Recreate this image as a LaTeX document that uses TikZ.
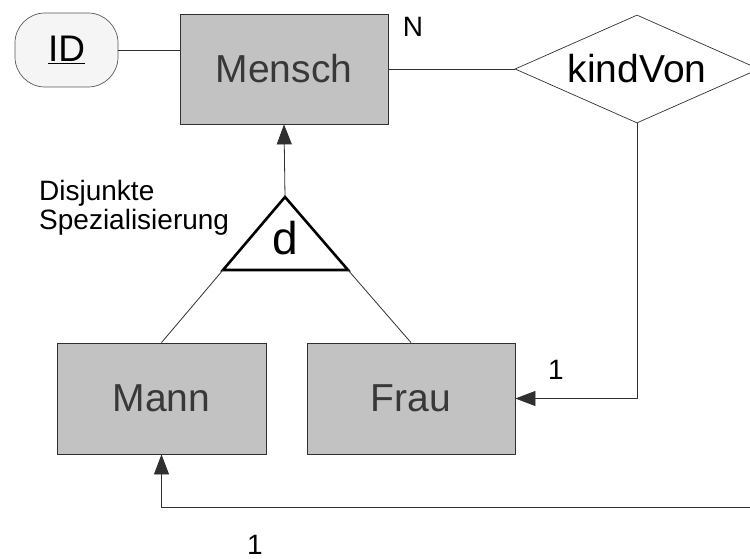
\documentclass[tikz,border=0pt]{standalone}
\usepackage{fontspec}
\setmainfont{Liberation Sans}
\usetikzlibrary{shapes.geometric,arrows.meta}
\definecolor{boxfill}{HTML}{C2C2C2}
\definecolor{boxtext}{HTML}{383838}
\definecolor{linecol}{HTML}{303030}
\tikzset{
  entity/.style={draw=linecol, line width=0.8pt, fill=boxfill, text=boxtext,
    minimum width=208pt, minimum height=110pt, inner sep=0pt, font=\fontsize{39}{44}\selectfont},
  attrib/.style={draw=linecol!80, line width=0.7pt, fill=gray!8, rounded corners=30pt,
    minimum width=103pt, minimum height=74pt, inner sep=0pt, font=\fontsize{37}{42}\selectfont},
  relation/.style={draw=linecol, line width=0.7pt, shape=diamond, aspect=2.26,
    minimum width=244pt, minimum height=108pt, inner sep=0pt, font=\fontsize{39}{44}\selectfont},
  conn/.style={draw=linecol, line width=0.8pt},
  arr/.style={conn, -{Triangle[length=20pt,width=15pt]}},
  lab/.style={inner sep=0pt, font=\fontsize{28}{30}\selectfont},
}
\begin{document}
\begin{tikzpicture}[x=1pt,y=-1pt]
\useasboundingbox (0,0) rectangle (750,559);
% nodes
\node[attrib] (id) at (66.5,50) {\underline{ID}};
\node[entity] (mensch) at (284,69) {Mensch};
\node[relation] (kv) at (637,69) {kindVon};
\node[entity, minimum width=209pt, minimum height=111pt] (mann) at (161.5,398.5) {Mann};
\node[entity, minimum height=111pt] (frau) at (411,398.5) {Frau};
% specialisation triangle
\coordinate (apex) at (285,197);
\coordinate (tl) at (223,270);
\coordinate (tr) at (348,270);
\draw[line width=2.6pt, line join=miter] (apex) -- (tl) -- (tr) -- cycle;
\node[inner sep=0pt, font=\fontsize{46}{50}\selectfont] (dlab) at (285,238) {d};
% connectors
\draw[conn] (id.east) -- (id.east -| mensch.west);
\draw[conn] (mensch.east) -- (kv.west);
\draw[arr] (apex) -- (mensch.south);
\draw[conn] (tl) -- (mann.north);
\draw[conn] (tr) -- (frau.north);
\draw[arr] (kv.south) |- (frau.east);
\coordinate (mannR) at (751,507);
\draw[arr] (mannR) -| (mann.south);
% labels
\node[lab] (nlab) at (413,27) {N};
\node[lab] (onefrau) at (556,370) {1};
\node[lab] (onemann) at (255,545) {1};
\node[lab, anchor=west, align=left, font=\fontsize{28}{29}\selectfont] (disj) at (39,207.5) {Disjunkte\\Spezialisierung};
\end{tikzpicture}
\end{document}
